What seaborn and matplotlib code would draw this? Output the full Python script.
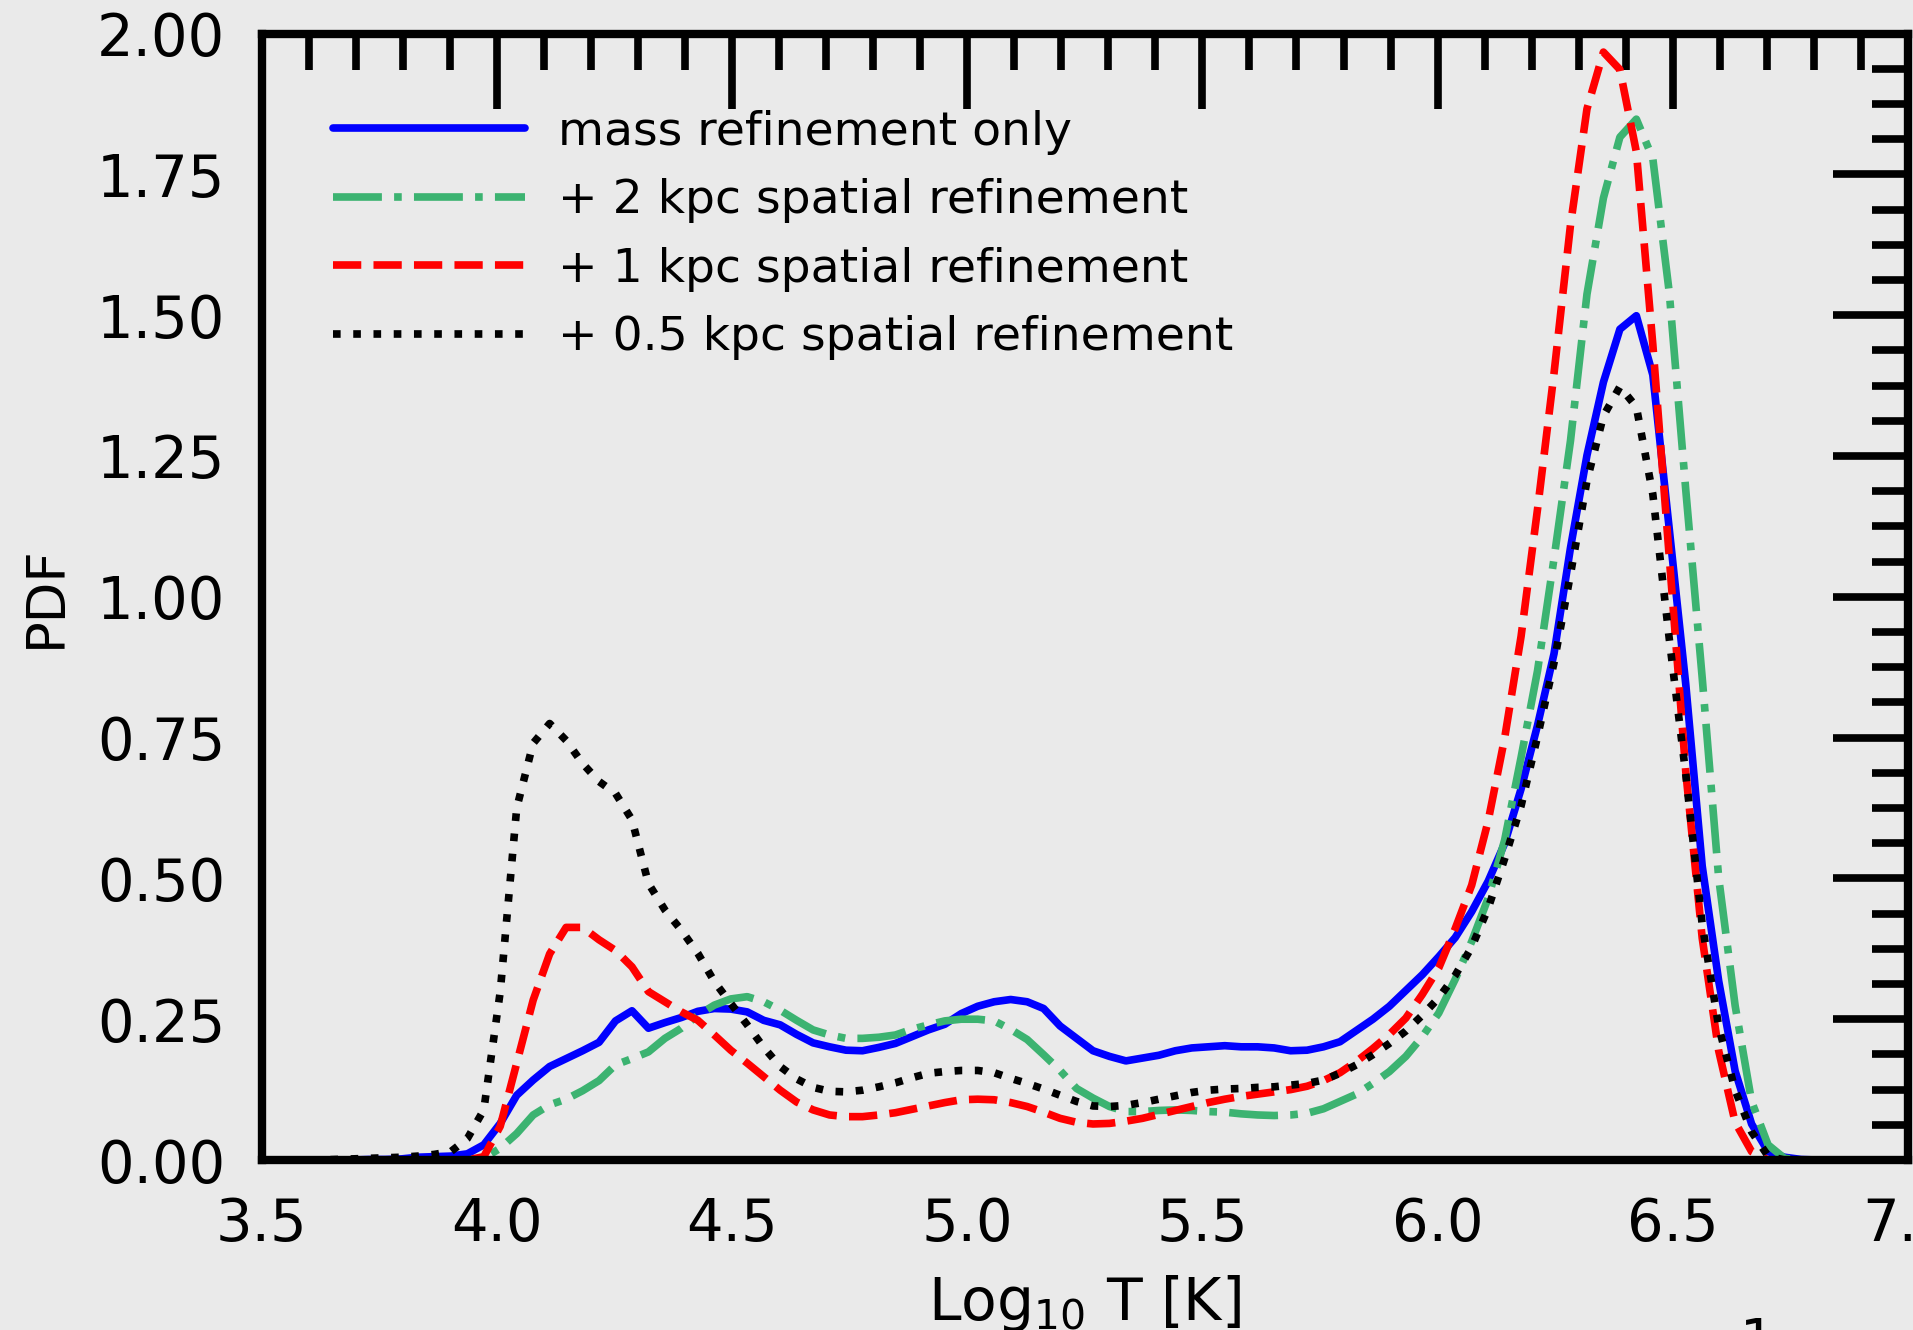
import numpy as np
import pandas as pd
import matplotlib
matplotlib.use("Agg")
import matplotlib.pyplot as plt
from matplotlib.ticker import MultipleLocator, FormatStrFormatter
import seaborn as sns

# Temperature histogram: 100 bins between log T = 3.5 and 7.0
bin_edges = np.linspace(3.5, 7.0, 101)
log_t = 0.5 * (bin_edges[:-1] + bin_edges[1:])

pdf_mass_only = [
    0, 0, 0, 0, 0, 0, 0.001, 0.001, 0.002, 0.005,
    0.006, 0.007, 0.011, 0.027, 0.065, 0.115, 0.142, 0.166, 0.180, 0.194,
    0.209, 0.247, 0.265, 0.234, 0.244, 0.253, 0.264, 0.269, 0.268, 0.263,
    0.248, 0.240, 0.223, 0.208, 0.201, 0.195, 0.194, 0.200, 0.207, 0.219,
    0.231, 0.241, 0.260, 0.273, 0.281, 0.285, 0.281, 0.269, 0.238, 0.216,
    0.194, 0.184, 0.176, 0.181, 0.186, 0.194, 0.199, 0.201, 0.203, 0.201,
    0.201, 0.199, 0.194, 0.195, 0.201, 0.210, 0.230, 0.250, 0.273, 0.301,
    0.329, 0.361, 0.395, 0.441, 0.495, 0.562, 0.659, 0.772, 0.899, 1.087,
    1.251, 1.381, 1.475, 1.499, 1.394, 1.120, 0.845, 0.522, 0.318, 0.158,
    0.064, 0.015, 0.005, 0.001, 0, 0, 0, 0, 0, 0,
]

pdf_2kpc = [
    0, 0, 0, 0, 0, 0, 0, 0, 0, 0,
    0, 0, 0, 0.003, 0.021, 0.047, 0.080, 0.098, 0.108, 0.123,
    0.141, 0.169, 0.180, 0.192, 0.216, 0.234, 0.257, 0.275, 0.286, 0.290,
    0.281, 0.266, 0.248, 0.231, 0.222, 0.216, 0.216, 0.218, 0.222, 0.232,
    0.240, 0.247, 0.250, 0.250, 0.247, 0.232, 0.214, 0.187, 0.159, 0.127,
    0.110, 0.095, 0.086, 0.086, 0.088, 0.089, 0.088, 0.086, 0.085, 0.082,
    0.080, 0.079, 0.080, 0.083, 0.091, 0.104, 0.117, 0.136, 0.157, 0.184,
    0.219, 0.261, 0.321, 0.388, 0.465, 0.568, 0.715, 0.869, 1.068, 1.277,
    1.537, 1.708, 1.816, 1.848, 1.778, 1.540, 1.190, 0.856, 0.501, 0.274,
    0.104, 0.027, 0.003, 0, 0, 0, 0, 0, 0, 0,
]

pdf_1kpc = [
    0, 0, 0, 0, 0, 0, 0, 0, 0, 0,
    0, 0, 0, 0.006, 0.060, 0.172, 0.284, 0.366, 0.413, 0.413,
    0.391, 0.372, 0.343, 0.299, 0.281, 0.263, 0.248, 0.222, 0.195, 0.172,
    0.148, 0.124, 0.103, 0.089, 0.080, 0.077, 0.077, 0.080, 0.084, 0.090,
    0.096, 0.102, 0.107, 0.108, 0.107, 0.102, 0.095, 0.085, 0.074, 0.067,
    0.064, 0.065, 0.069, 0.074, 0.081, 0.088, 0.095, 0.102, 0.108, 0.113,
    0.117, 0.121, 0.125, 0.131, 0.141, 0.155, 0.175, 0.198, 0.223, 0.252,
    0.294, 0.341, 0.411, 0.488, 0.602, 0.749, 0.930, 1.156, 1.397, 1.660,
    1.866, 1.967, 1.936, 1.790, 1.448, 1.070, 0.690, 0.394, 0.194, 0.067,
    0.015, 0, 0, 0, 0, 0, 0, 0, 0, 0,
]

pdf_05kpc = [
    0, 0, 0, 0, 0.001, 0.002, 0.003, 0.004, 0.005, 0.007,
    0.010, 0.015, 0.038, 0.089, 0.299, 0.625, 0.740, 0.775, 0.745, 0.704,
    0.672, 0.651, 0.604, 0.491, 0.444, 0.408, 0.367, 0.317, 0.278, 0.240,
    0.200, 0.166, 0.144, 0.129, 0.122, 0.121, 0.124, 0.130, 0.137, 0.146,
    0.154, 0.157, 0.159, 0.159, 0.155, 0.145, 0.136, 0.126, 0.115, 0.104,
    0.096, 0.095, 0.097, 0.102, 0.108, 0.114, 0.120, 0.124, 0.126, 0.127,
    0.129, 0.130, 0.133, 0.136, 0.142, 0.154, 0.169, 0.187, 0.207, 0.229,
    0.257, 0.288, 0.328, 0.378, 0.447, 0.535, 0.629, 0.752, 0.883, 1.040,
    1.206, 1.321, 1.373, 1.337, 1.182, 0.925, 0.685, 0.418, 0.237, 0.124,
    0.050, 0.007, 0, 0, 0, 0, 0, 0, 0, 0,
]

labels = [
    "mass refinement only",
    "+ 2 kpc spatial refinement",
    "+ 1 kpc spatial refinement",
    "+ 0.5 kpc spatial refinement",
]
colors = ["#0000ff", "#3cb371", "#ff0000", "#000000"]
linestyles = ["-", "-.", "--", ":"]
x_ticks = [3.5, 4.0, 4.5, 5.0, 5.5, 6.0, 6.5, 7.0]
y_ticks = [0.0, 0.25, 0.5, 0.75, 1.0, 1.25, 1.5, 1.75, 2.0]

bg = "#eaeaea"
sns.set_theme(style="white", rc={
    "axes.facecolor": bg,
    "figure.facecolor": bg,
    "savefig.facecolor": bg,
    "axes.edgecolor": "black",
    "axes.labelcolor": "black",
    "text.color": "black",
    "xtick.color": "black",
    "ytick.color": "black",
    "axes.grid": False,
})
plt.rcParams["font.family"] = ["DejaVu Sans"]
plt.rcParams["mathtext.fontset"] = "dejavusans"

fig = plt.figure(figsize=(19.13, 13.30), dpi=100)
ax = fig.add_axes([0.1367, 0.1278, 0.8607, 0.847])

series = [pdf_mass_only, pdf_2kpc, pdf_1kpc, pdf_05kpc]
for vals, lab, col, ls in zip(series, labels, colors, linestyles):
    df = pd.DataFrame({"log_t": log_t, "pdf": vals})
    sns.lineplot(data=df, x="log_t", y="pdf", ax=ax, color=col,
                 linestyle=ls, linewidth=5.5, label=lab)

ax.set_xlim(3.5, 7.0)
ax.set_ylim(0.0, 2.0)
ax.set_xticks(x_ticks)
ax.set_yticks(y_ticks)
ax.xaxis.set_minor_locator(MultipleLocator(0.1))
ax.yaxis.set_minor_locator(MultipleLocator(0.0625))
ax.xaxis.set_major_formatter(FormatStrFormatter("%.1f"))
ax.yaxis.set_major_formatter(FormatStrFormatter("%.2f"))

ax.tick_params(which="both", direction="in", top=True, right=True,
               colors="black", labelsize=41.5, pad=26)
ax.tick_params(which="major", length=54, width=5.5)
ax.tick_params(which="minor", length=26, width=5.5)
for sp in ax.spines.values():
    sp.set_linewidth(6)
    sp.set_color("black")

ax.set_xlabel(r"Log$_{10}$ T [K]", fontsize=42, labelpad=14)
ax.set_ylabel("PDF", fontsize=38, labelpad=18)

ax.legend(loc="upper left", bbox_to_anchor=(0.0434, 0.9325), frameon=False,
          fontsize=34, handlelength=4.07, handletextpad=0.7,
          labelspacing=0.5, borderpad=0, borderaxespad=0)

# partial label from the adjoining panel, cut by the lower edge
fig.text(0.9185, 0.011, "1", fontsize=40, ha="center", va="top")

fig.savefig("out.png", dpi=100)
